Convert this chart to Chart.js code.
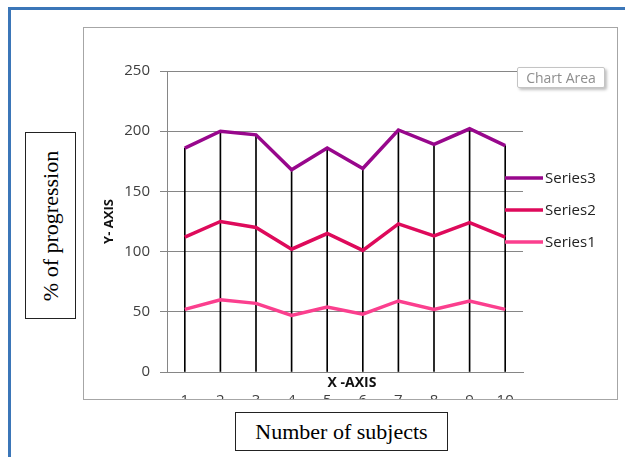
<!DOCTYPE html>
<html>
<head>
<meta charset="utf-8">
<script src="https://cdn.jsdelivr.net/npm/chart.js@4/dist/chart.umd.min.js"></script>
<style>
  body { margin: 0; background: #fff; width: 625px; height: 457px; overflow: hidden; position: relative; }
  .frame { position: absolute; left: 8px; top: 7px; width: 800px; height: 600px;
           border-left: 3px solid #3b76b8; border-top: 3px solid #3b76b8; }
  .chart-box { position: absolute; left: 83px; top: 27px; width: 533px; height: 371px;
               border: 1px solid #a6a6a6; background: #fff; }
  .chart-box canvas { display: block; }
  .ylabel { position: absolute; left: 25px; top: 132px; width: 49px; height: 185px;
            border: 1px solid #222; font-family: "Liberation Serif", serif; font-size: 22px; }
  .ylabel span { position: absolute; left: 50%; top: 50%; white-space: nowrap;
                 transform: translate(-50%, -50%) rotate(-90deg); }
  .xlabel { position: absolute; left: 235px; top: 412px; width: 211px; height: 37px;
            border: 1px solid #222; font-family: "Liberation Serif", serif; font-size: 22px;
            text-align: center; line-height: 37px; }
  .tip { position: absolute; left: 517px; top: 67px; width: 86px; height: 19px;
         border: 1px solid #c4c4c4; border-radius: 2px; background: #fff;
         box-shadow: 2px 2px 3px rgba(0,0,0,0.25);
         font-family: "Open Sans", sans-serif; font-size: 14px; color: #8e8e8e;
         text-align: center; line-height: 19px; }
</style>
</head>
<body>
<div class="frame"></div>
<div class="chart-box"><canvas id="chart" width="533" height="371"></canvas></div>
<div class="ylabel"><span>% of progression</span></div>
<div class="xlabel">Number of subjects</div>
<div class="tip">Chart Area</div>
<script>
const subjects = ['1', '2', '3', '4', '5', '6', '7', '8', '9', '10'];
const series1 = [52, 60, 57, 47, 54, 48, 59, 52, 59, 52];
const series2 = [112, 125, 120, 102, 115, 101, 123, 113, 124, 112];
const series3 = [186, 200, 197, 168, 186, 169, 201, 189, 202, 188];
const yTicks = [0, 50, 100, 150, 200, 250];

const tickFont = { family: 'Open Sans', size: 15 };

// legend sits over the right end of the plot, so draw it by hand
const sideLegend = {
  id: 'sideLegend',
  afterDraw(chart) {
    const ctx = chart.ctx;
    const area = chart.chartArea;
    const lines = chart.data.datasets.filter(d => d.type === 'line').slice().reverse();
    ctx.save();
    ctx.font = '15px "Open Sans"';
    ctx.textBaseline = 'middle';
    lines.forEach((d, i) => {
      const y = area.top + 107 + i * 32;
      ctx.strokeStyle = d.borderColor;
      ctx.lineWidth = 3.5;
      ctx.beginPath();
      ctx.moveTo(area.right - 18, y);
      ctx.lineTo(area.right + 20, y);
      ctx.stroke();
      ctx.fillStyle = '#222';
      ctx.fillText(d.label, area.right + 22, y + 1);
    });
    // x axis title sits between the axis and the tick labels
    ctx.font = 'bold 14px "Open Sans"';
    ctx.textAlign = 'center';
    ctx.fillStyle = '#111';
    ctx.fillText('X -AXIS', (area.left + area.right) / 2 + 7, area.bottom + 11);
    ctx.restore();
  }
};

new Chart(document.getElementById('chart'), {
  data: {
    labels: subjects,
    datasets: [
      { type: 'line', label: 'Series1', data: series1, borderColor: '#fb3f8e', borderWidth: 3.5, pointRadius: 0, order: 3 },
      { type: 'line', label: 'Series2', data: series2, borderColor: '#de0a5b', borderWidth: 3.5, pointRadius: 0, order: 2 },
      { type: 'line', label: 'Series3', data: series3, borderColor: '#98078c', borderWidth: 3.5, pointRadius: 0, order: 1 },
      { type: 'bar', label: 'drop', data: series3, backgroundColor: '#000', barThickness: 1, order: 10 }
    ]
  },
  options: {
    responsive: false,
    animation: false,
    layout: { padding: { left: 0, top: 43, right: 94, bottom: 0 } },
    plugins: { legend: { display: false }, tooltip: { enabled: false } },
    scales: {
      x: {
        offset: true,
        grid: { display: false, drawTicks: false },
        border: { color: '#868686' },
        ticks: { font: tickFont, color: '#404040', padding: 20, maxRotation: 0 },
        afterFit(s) { s.height = 27; }
      },
      y: {
        min: 0, max: 250,
        afterBuildTicks(s) { s.ticks = yTicks.map(v => ({ value: v })); },
        grid: { color: '#868686', tickLength: 7 },
        border: { color: '#868686' },
        ticks: { font: tickFont, color: '#404040', padding: 10 },
        title: { display: true, text: 'Y- AXIS', font: { family: 'Open Sans', size: 13, weight: 'bold' }, color: '#111', padding: { top: 17, bottom: 0 } },
        afterFit(s) { s.width = 83; }
      }
    }
  },
  plugins: [sideLegend]
});
</script>
</body>
</html>
